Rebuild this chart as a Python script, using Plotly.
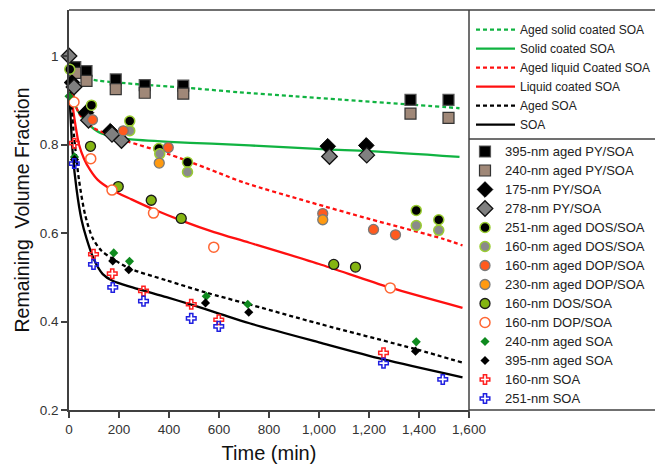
import plotly.graph_objects as go

# ---- fitted curves (time in min, remaining volume fraction) ----
aged_solid_t = [20, 50, 120, 237, 400, 517, 682, 900, 1100, 1349, 1562]
aged_solid_y = [0.962, 0.952, 0.944, 0.938, 0.931, 0.926, 0.918, 0.909, 0.901, 0.891, 0.882]

solid_t = [12, 30, 63, 100, 130, 180, 237, 400, 570, 722, 1030, 1200, 1562]
solid_y = [0.93, 0.882, 0.855, 0.835, 0.825, 0.817, 0.812, 0.806, 0.802, 0.798, 0.789, 0.785, 0.772]

aged_liquid_t = [10, 40, 97, 160, 240, 395, 557, 700, 962, 1200, 1495, 1574]
aged_liquid_y = [0.93, 0.87, 0.838, 0.822, 0.806, 0.779, 0.745, 0.714, 0.670, 0.632, 0.587, 0.572]

liquid_t = [5, 20, 40, 60, 85, 115, 170, 250, 340, 450, 580, 722, 1000, 1282, 1574]
liquid_y = [0.93, 0.865, 0.80, 0.768, 0.742, 0.72, 0.698, 0.676, 0.653, 0.628, 0.602, 0.578, 0.53, 0.477, 0.431]

aged_soa_t = [5, 20, 40, 65, 95, 130, 174, 242, 390, 550, 700, 1000, 1390, 1574]
aged_soa_y = [0.92, 0.82, 0.72, 0.64, 0.588, 0.56, 0.542, 0.52, 0.493, 0.465, 0.442, 0.395, 0.337, 0.307]

soa_t = [3, 15, 30, 50, 70, 100, 135, 174, 254, 390, 489, 600, 722, 1000, 1254, 1574]
soa_y = [0.90, 0.78, 0.70, 0.63, 0.588, 0.54, 0.507, 0.492, 0.477, 0.455, 0.438, 0.418, 0.396, 0.353, 0.315, 0.274]

# ---- measurements ----
py395_aged_t = [25, 70, 187, 303, 457, 1366, 1518]
py395_aged_y = [0.975, 0.966, 0.947, 0.934, 0.933, 0.901, 0.901]
py240_aged_t = [25, 70, 187, 303, 457, 1366, 1518]
py240_aged_y = [0.962, 0.944, 0.925, 0.917, 0.915, 0.870, 0.860]
py175_t = [12, 68, 165, 1035, 1189]
py175_y = [0.94, 0.872, 0.83, 0.796, 0.798]
py278_t = [0, 20, 78, 172, 210, 1042, 1191]
py278_y = [1.0, 0.93, 0.855, 0.823, 0.809, 0.773, 0.776]
dos251_aged_t = [3, 90, 243, 359, 474, 1389, 1479]
dos251_aged_y = [0.970, 0.889, 0.853, 0.791, 0.760, 0.651, 0.630]
dos160_aged_t = [243, 363, 474, 1389, 1479]
dos160_aged_y = [0.831, 0.779, 0.738, 0.617, 0.606]
dop160_aged_t = [94, 217, 397, 1015, 1218, 1306]
dop160_aged_y = [0.856, 0.831, 0.793, 0.644, 0.608, 0.596]
dop230_aged_t = [361, 1015]
dop230_aged_y = [0.758, 0.630]
dos160_t = [86, 197, 329, 449, 1059, 1146]
dos160_y = [0.796, 0.705, 0.674, 0.633, 0.529, 0.523]
dop160_t = [20, 87, 172, 338, 579, 1285]
dop160_y = [0.896, 0.768, 0.697, 0.645, 0.568, 0.476]
soa240_aged_t = [0, 22, 179, 242, 549, 715, 1389]
soa240_aged_y = [0.909, 0.772, 0.555, 0.536, 0.457, 0.439, 0.354]
soa395_aged_t = [22, 175, 239, 546, 719, 1386]
soa395_aged_y = [0.766, 0.537, 0.517, 0.442, 0.421, 0.333]
soa160_t = [21, 98, 173, 298, 489, 599, 1258]
soa160_y = [0.803, 0.552, 0.508, 0.469, 0.439, 0.404, 0.329]
soa251_t = [21, 98, 175, 298, 489, 599, 1258, 1495]
soa251_y = [0.757, 0.529, 0.477, 0.446, 0.407, 0.389, 0.306, 0.269]

GREEN = "#10B341"
RED = "#FF1010"
AXIS = "#404040"
FONT = "Arial, Liberation Sans, sans-serif"

fig = go.Figure()

curves = [
    ("Aged solid coated SOA", aged_solid_t, aged_solid_y, GREEN, "4px,3px"),
    ("Solid coated SOA", solid_t, solid_y, GREEN, "solid"),
    ("Aged liquid Coated SOA", aged_liquid_t, aged_liquid_y, RED, "4px,3px"),
    ("Liquid coated SOA", liquid_t, liquid_y, RED, "solid"),
    ("Aged SOA", aged_soa_t, aged_soa_y, "#000000", "4px,3px"),
    ("SOA", soa_t, soa_y, "#000000", "solid"),
]
for name, t, y, color, dash in curves:
    fig.add_trace(go.Scatter(
        x=t, y=y, mode="lines", name=name, legend="legend",
        line=dict(color=color, width=2.3, dash=dash, shape="spline", smoothing=0.8),
        cliponaxis=False,
    ))

points = [
    ("395-nm aged PY/SOA", py395_aged_t, py395_aged_y,
     dict(symbol="square", size=11, color="#000000", line=dict(color="#555555", width=1.2))),
    ("240-nm aged PY/SOA", py240_aged_t, py240_aged_y,
     dict(symbol="square", size=11, color="#A08878", line=dict(color="#333333", width=1.2))),
    ("175-nm PY/SOA", py175_t, py175_y,
     dict(symbol="diamond", size=12, color="#000000", line=dict(color="#000000", width=1))),
    ("278-nm PY/SOA", py278_t, py278_y,
     dict(symbol="diamond", size=12, color="#808080", line=dict(color="#111111", width=1.3))),
    ("251-nm aged DOS/SOA", dos251_aged_t, dos251_aged_y,
     dict(symbol="circle", size=10, color="#000000", line=dict(color="#9ACD32", width=1.5))),
    ("160-nm aged DOS/SOA", dos160_aged_t, dos160_aged_y,
     dict(symbol="circle", size=10, color="#8A8A8A", line=dict(color="#9ACD32", width=1.5))),
    ("160-nm aged DOP/SOA", dop160_aged_t, dop160_aged_y,
     dict(symbol="circle", size=10, color="#FF5A1E", line=dict(color="#7A7A7A", width=1.3))),
    ("230-nm aged DOP/SOA", dop230_aged_t, dop230_aged_y,
     dict(symbol="circle", size=10, color="#FF9A10", line=dict(color="#7A7A7A", width=1.3))),
    ("160-nm DOS/SOA", dos160_t, dos160_y,
     dict(symbol="circle", size=10, color="#84B512", line=dict(color="#1A1A1A", width=1.3))),
    ("160-nm DOP/SOA", dop160_t, dop160_y,
     dict(symbol="circle", size=10, color="#FFFFFF", line=dict(color="#FF6633", width=1.5))),
    ("240-nm aged SOA", soa240_aged_t, soa240_aged_y,
     dict(symbol="diamond", size=7, color="#0E8A1E", line=dict(width=0))),
    ("395-nm aged SOA", soa395_aged_t, soa395_aged_y,
     dict(symbol="diamond", size=7, color="#000000", line=dict(width=0))),
    ("160-nm SOA", soa160_t, soa160_y,
     dict(symbol="cross-open", size=8, color="#FF2020", line=dict(color="#FF2020", width=1.5))),
    ("251-nm SOA", soa251_t, soa251_y,
     dict(symbol="cross-open", size=8, color="#2020E0", line=dict(color="#2020E0", width=1.5))),
]
for name, t, y, marker in points:
    fig.add_trace(go.Scatter(
        x=t, y=y, mode="markers", legend="legend2",
        name=f'<span style="font-size:13px">{name}</span>',
        marker=marker, cliponaxis=False,
    ))

# frame around plot and legend panel
frame = dict(type="line", xref="paper", yref="paper", line=dict(color=AXIS, width=1.5))
fig.update_layout(shapes=[
    dict(frame, x0=0, x1=1.47, y0=1, y1=1),
    dict(frame, x0=1, x1=1, y0=1, y1=-0.015),
    dict(frame, x0=1, x1=1.47, y0=0.6775, y1=0.6775),
    dict(frame, x0=1, x1=1.47, y0=0, y1=0),
])

fig.update_layout(
    width=655, height=464,
    margin=dict(l=69, r=186, t=10, b=54, autoexpand=False),
    paper_bgcolor="white", plot_bgcolor="white",
    font=dict(family=FONT, color="#222222"),
    legend=dict(x=1.005, y=0.987, xanchor="left", yanchor="top",
                bgcolor="rgba(0,0,0,0)", borderwidth=0, itemwidth=39,
                font=dict(size=12, family=FONT, color="#222222"), tracegroupgap=0),
    legend2=dict(x=0.99, y=0.6825, xanchor="left", yanchor="top",
                 bgcolor="rgba(0,0,0,0)", borderwidth=0,
                 font=dict(size=12.2, family=FONT, color="#222222"), tracegroupgap=0),
    xaxis=dict(range=[0, 1600], tick0=0, dtick=200, tickformat=",d",
               ticks="outside", ticklen=6, tickwidth=1.5, tickcolor=AXIS,
               showline=True, linecolor=AXIS, linewidth=1.5,
               showgrid=False, zeroline=False,
               tickfont=dict(size=13.5, color="#333333"),
               title=dict(text="Time (min)", font=dict(size=20, color="#111111"), standoff=10)),
    yaxis=dict(range=[0.2, 1.104], tick0=0.2, dtick=0.2,
               ticks="outside", ticklen=6, tickwidth=1.5, tickcolor=AXIS,
               showline=True, linecolor=AXIS, linewidth=1.5,
               showgrid=False, zeroline=False,
               tickfont=dict(size=13.5, color="#333333"),
               title=dict(text="Remaining  Volume Fraction", font=dict(size=19.5, color="#111111"), standoff=5)),
    showlegend=True,
)

fig.write_html("out.html")
